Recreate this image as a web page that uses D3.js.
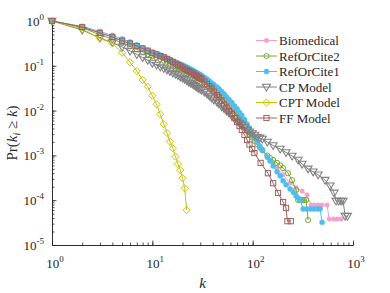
<!DOCTYPE html>
<html>
<head>
<meta charset="utf-8">
<script src="https://cdn.jsdelivr.net/npm/d3@7"></script>
<style>
  body { margin: 0; background: #fff; }
  text { font-family: "Liberation Serif", "Times New Roman", serif; fill: #262626; }
</style>
</head>
<body>
<div class="vis-holder"></div>
<script>
// degree k and Pr(k_i >= k) for each network
var kBio = [1,2,3,4,5,6,7,8,9,10,11,12,13,14,15,16,17,18,19,20,21,22,23,24,25,26,27,28,29,30,31,33,35,37,39,41,44,46,49,52,55,58,62,66,70,74,78,83,88,93,99,105,111,118,125,140,160,175,201,236,271,311,349,382,415,450,490,552,578,640,700,761];
var pBio = [1,0.735,0.540,0.439,0.358,0.307,0.263,0.231,0.203,0.183,0.170,0.157,0.146,0.135,0.125,0.115,0.109,0.1016,0.095,0.089,0.0848,0.081,0.0766,0.0727,0.0691,0.0639,0.0607,0.0592,0.0562,0.0540,0.0521,0.0463,0.0413,0.0367,0.0328,0.0311,0.0274,0.0254,0.0217,0.0191,0.0164,0.0140,0.0117,0.0098,0.0082,0.0068,0.0059,0.0048,0.00388,0.00325,0.00264,0.00226,0.00189,0.00154,0.00125,0.00090,0.00068,0.00052,0.00037,0.00024,0.00019,0.000160,0.000131,7.8e-5,7.8e-5,7.8e-5,7.8e-5,7.8e-5,3.8e-5,3.8e-5,3.8e-5,3.8e-5];

var kRoc2 = [1,2,3,4,5,6,7,8,9,10,11,12,13,14,15,16,17,18,19,20,21,22,23,24,25,26,27,28,29,30,31,33,35,37,39,41,44,46,49,52,55,58,62,66,70,74,78,83,88,93,99,105,111,118,125,140,149,160,175,188,201,225,247,271,284,297,311,325,341,357];
var pRoc2 = [1,0.716,0.487,0.396,0.323,0.270,0.233,0.206,0.183,0.165,0.153,0.142,0.131,0.122,0.112,0.104,0.098,0.0916,0.0862,0.0827,0.0773,0.0746,0.0698,0.0663,0.0623,0.0592,0.0562,0.0534,0.0521,0.0502,0.0470,0.0435,0.0382,0.0345,0.0310,0.0285,0.0247,0.0225,0.0196,0.0172,0.0148,0.0127,0.0106,0.0088,0.0072,0.00607,0.0050,0.00420,0.00350,0.00293,0.00251,0.00210,0.00180,0.00150,0.00132,0.00099,0.00087,0.00079,0.00068,0.00060,0.00052,0.00040,0.00028,0.000169,0.000101,0.000101,0.000101,0.000101,0.000101,3.6e-5];

var kRoc1 = [1,2,3,4,5,6,7,8,9,10,11,12,13,14,15,16,17,18,19,20,21,22,23,24,25,26,27,28,29,30,31,33,35,37,39,41,44,46,49,52,55,58,62,66,70,74,78,83,88,93,99,105,111,118,125,140,149,160,175,188,201,215,236,255,271,284,297,318,345,375,405,440,470,492];
var pRoc1 = [1,0.754,0.583,0.474,0.396,0.340,0.291,0.256,0.225,0.203,0.188,0.174,0.161,0.149,0.138,0.128,0.122,0.115,0.110,0.104,0.099,0.094,0.089,0.085,0.081,0.0766,0.0727,0.0691,0.0663,0.0636,0.0607,0.0554,0.0507,0.0458,0.0413,0.0382,0.0336,0.0307,0.0267,0.0235,0.0201,0.0177,0.0152,0.0127,0.0109,0.00912,0.00777,0.00633,0.0050,0.00409,0.00308,0.00251,0.00199,0.00162,0.00132,0.00092,0.00075,0.00058,0.00043,0.00035,0.00027,0.00022,0.000178,0.000149,0.000124,0.000112,0.000101,6.4e-5,6.4e-5,6.4e-5,6.4e-5,6.4e-5,6.4e-5,3.2e-5];

var kCP = [1,2,3,4,5,6,7,8,9,10,11,12,13,14,15,16,17,18,19,20,21,22,23,24,25,26,27,28,29,30,31,33,35,37,39,41,44,46,49,52,55,58,62,66,70,74,78,83,88,93,99,105,111,118,125,140,160,188,215,247,284,311,357,400,449,527,591,648,678,720,760,797,835,880];
var pCP = [1,0.630,0.417,0.331,0.263,0.214,0.179,0.153,0.133,0.115,0.104,0.094,0.087,0.081,0.0746,0.0691,0.0649,0.0607,0.0568,0.0534,0.0502,0.0470,0.0439,0.0413,0.0393,0.0369,0.0349,0.0328,0.0315,0.0303,0.0288,0.0260,0.0235,0.0212,0.0191,0.0174,0.0156,0.0142,0.0123,0.0111,0.0098,0.00902,0.0076,0.00663,0.0059,0.00523,0.0048,0.00420,0.00369,0.00336,0.00308,0.00285,0.00257,0.00245,0.00232,0.00199,0.00166,0.00139,0.00116,0.00097,0.00079,0.00064,0.00050,0.00043,0.00037,0.00028,0.00021,0.000145,9.6e-5,9.6e-5,9.6e-5,9.6e-5,4.4e-5,4.4e-5];

var kCPT = [1,2,3,4,5,6,7,8,9,10,11,12,13,14,15,16,17,18,19,20,21,22];
var pCPT = [1,0.663,0.407,0.318,0.196,0.120,0.0766,0.0482,0.0342,0.0215,0.0138,0.0083,0.0050,0.00316,0.00202,0.00144,0.00094,0.00064,0.00047,0.00031,0.000184,6.0e-5];

var kFF = [1,2,3,4,5,6,7,8,9,10,11,12,13,14,15,16,17,18,19,20,21,22,23,24,25,26,27,28,29,30,31,33,35,37,39,41,44,46,49,52,55,58,62,66,70,74,78,83,88,93,99,104,120,142,160,179,201,215,222,240];
var pFF = [1,0.735,0.540,0.439,0.363,0.315,0.277,0.243,0.217,0.193,0.179,0.165,0.155,0.142,0.131,0.122,0.112,0.104,0.0975,0.0916,0.0857,0.081,0.0766,0.0727,0.0709,0.0663,0.0623,0.0592,0.0554,0.0534,0.0507,0.0446,0.0393,0.0349,0.0311,0.0267,0.0223,0.0198,0.0168,0.0137,0.0117,0.0098,0.0084,0.0068,0.00556,0.00453,0.00369,0.00285,0.00221,0.00175,0.00139,0.00113,0.00068,0.00040,0.00024,0.000145,9.1e-5,6.7e-5,3.4e-5,3.4e-5];

var names = ["Biomedical", "RefOrCite2", "RefOrCite1", "CP Model", "CPT Model", "FF Model"];

var series = [
  {name: names[0], k: kBio,  p: pBio,  color: "#f8a0c8", marker: "dot"},
  {name: names[1], k: kRoc2, p: pRoc2, color: "#77ac30", marker: "circle"},
  {name: names[2], k: kRoc1, p: pRoc1, color: "#4dbeee", marker: "blob"},
  {name: names[3], k: kCP,   p: pCP,   color: "#808080", marker: "triangle"},
  {name: names[4], k: kCPT,  p: pCPT,  color: "#c9c400", marker: "diamond"},
  {name: names[5], k: kFF,   p: pFF,   color: "#a15f5f", marker: "square"}
];

var width = 390;
var height = 293;

var svg = d3.select(".vis-holder")
  .append("svg")
  .attr("width", width)
  .attr("height", height);

var xScale = d3.scaleLog().domain([1, 1000]).range([52, 353]);
var yScale = d3.scaleLog().domain([1e-5, 1]).range([245, 21]);

// axes, ticks pointing inwards
function styleAxis(g) {
  g.selectAll("path,line").attr("stroke", "#262626").attr("stroke-width", 0.8);
}
svg.append("g").attr("transform", "translate(0,245)")
  .call(d3.axisBottom(xScale).tickValues(xScale.ticks()).tickSize(-2.5).tickSizeOuter(0).tickFormat(""))
  .call(styleAxis);
svg.append("g").attr("transform", "translate(0,245)")
  .call(d3.axisBottom(xScale).tickValues([1, 10, 100, 1000]).tickSize(-4.5).tickSizeOuter(0).tickFormat(""))
  .call(styleAxis);
svg.append("g").attr("transform", "translate(52,0)")
  .call(d3.axisLeft(yScale).tickValues(yScale.ticks()).tickSize(-2.5).tickSizeOuter(0).tickFormat(""))
  .call(styleAxis);
svg.append("g").attr("transform", "translate(52,0)")
  .call(d3.axisLeft(yScale).tickValues([1e-5, 1e-4, 1e-3, 1e-2, 1e-1, 1]).tickSize(-4.5).tickSizeOuter(0).tickFormat(""))
  .call(styleAxis);

// tick labels as 10^n
var xl = svg.selectAll(".xlab").data([0, 1, 2, 3]).enter().append("text")
  .attr("class", "xlab")
  .attr("x", function(d) { return xScale(Math.pow(10, d)) + 3; })
  .attr("y", 268)
  .attr("text-anchor", "middle")
  .style("font-size", "13px");
xl.append("tspan").text("10");
xl.append("tspan").attr("dy", -6).style("font-size", "9px").text(function(d) { return d; });

var yl = svg.selectAll(".ylab").data([0, -1, -2, -3, -4, -5]).enter().append("text")
  .attr("class", "ylab")
  .attr("x", 44)
  .attr("y", function(d) { return yScale(Math.pow(10, d)) + 5; })
  .attr("text-anchor", "end")
  .style("font-size", "13px");
yl.append("tspan").text("10");
yl.append("tspan").attr("dy", -6).style("font-size", "9px").text(function(d) { return d === 0 ? "0" : "-" + (-d); });

// axis titles
svg.append("text")
  .attr("x", 202.5)
  .attr("y", 288)
  .attr("text-anchor", "middle")
  .style("font-size", "15px")
  .style("font-style", "italic")
  .text("k");

var yt = svg.append("text")
  .attr("transform", "translate(17,133) rotate(-90)")
  .attr("text-anchor", "middle")
  .style("font-size", "15px");
yt.append("tspan").text("Pr(");
yt.append("tspan").style("font-style", "italic").text("k");
yt.append("tspan").style("font-style", "italic").style("font-size", "10px").attr("dy", 3).text("i");
yt.append("tspan").attr("dy", -3).text(" \u2265 ");
yt.append("tspan").style("font-style", "italic").text("k");
yt.append("tspan").text(")");

// marker drawing
function drawMarker(sel, type, color) {
  if (type === "dot") {
    sel.append("circle").attr("r", 2.2).attr("fill", color).attr("stroke", color).attr("stroke-width", 0.6);
  } else if (type === "blob") {
    sel.append("circle").attr("r", 2.5).attr("fill", color).attr("stroke", color).attr("stroke-width", 0.6);
  } else if (type === "circle") {
    sel.append("circle").attr("r", 2.6).attr("fill", "none").attr("stroke", color).attr("stroke-width", 1);
  } else if (type === "square") {
    sel.append("rect").attr("x", -2.6).attr("y", -2.6).attr("width", 5.2).attr("height", 5.2)
      .attr("fill", "none").attr("stroke", color).attr("stroke-width", 1);
  } else if (type === "diamond") {
    sel.append("path").attr("d", "M0,-3.6L3.6,0L0,3.6L-3.6,0Z")
      .attr("fill", "none").attr("stroke", color).attr("stroke-width", 1);
  } else if (type === "triangle") {
    sel.append("path").attr("d", "M-4,-2.8L4,-2.8L0,4Z")
      .attr("fill", "none").attr("stroke", color).attr("stroke-width", 1.1);
  }
}

var line = d3.line()
  .x(function(d) { return xScale(d[0]); })
  .y(function(d) { return yScale(d[1]); });

series.forEach(function(s) {
  var pts = s.k.map(function(k, i) { return [k, s.p[i]]; });
  var g = svg.append("g");
  g.append("path")
    .attr("d", line(pts))
    .attr("fill", "none")
    .attr("stroke", s.color)
    .attr("stroke-width", 1);
  g.selectAll("g.m").data(pts).enter().append("g")
    .attr("class", "m")
    .attr("transform", function(d) { return "translate(" + xScale(d[0]) + "," + yScale(d[1]) + ")"; })
    .each(function() { drawMarker(d3.select(this), s.marker, s.color); });
});

// legend
var legend = svg.append("g");
series.forEach(function(s, i) {
  var ly = 40.5 + i * 15.5;
  legend.append("line")
    .attr("x1", 256).attr("x2", 277).attr("y1", ly).attr("y2", ly)
    .attr("stroke", s.color).attr("stroke-width", 1);
  var m = legend.append("g").attr("transform", "translate(266.5," + ly + ")");
  drawMarker(m, s.marker, s.color);
  legend.append("text")
    .attr("x", 279)
    .attr("y", ly + 4.5)
    .style("font-size", "13px")
    .text(s.name);
});
</script>
</body>
</html>
